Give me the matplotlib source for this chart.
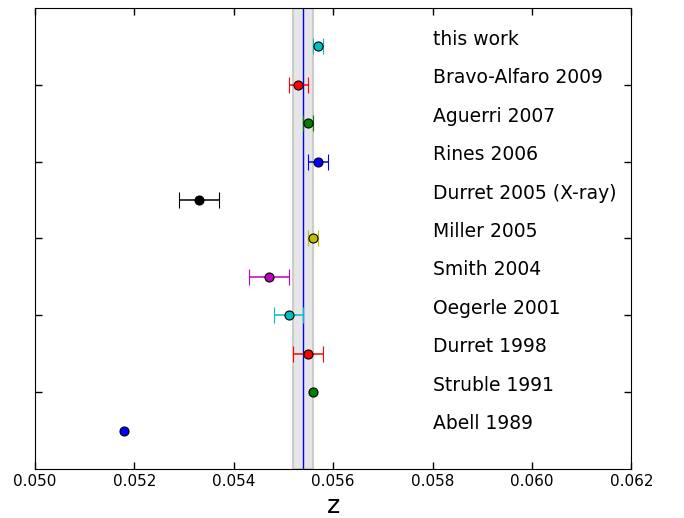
import matplotlib
matplotlib.use("Agg")
import matplotlib.pyplot as plt

labels = ["this work", "Bravo-Alfaro 2009", "Aguerri 2007", "Rines 2006",
          "Durret 2005 (X-ray)", "Miller 2005", "Smith 2004", "Oegerle 2001",
          "Durret 1998", "Struble 1991", "Abell 1989"]
z_values = [0.05570, 0.05530, 0.05550, 0.05570, 0.05330, 0.05560,
            0.05470, 0.05510, 0.05550, 0.05560, 0.05180]
z_errors = [0.00010, 0.00020, 0.00010, 0.00020, 0.00040, 0.00010,
            0.00040, 0.00030, 0.00030, 0.0, 0.0]
colors = ["c", "r", "g", "b", "k", "y", "m", "c", "r", "g", "b"]
band_low, band_high, band_mid = 0.05520, 0.05560, 0.05540
xticks = [0.050, 0.052, 0.054, 0.056, 0.058, 0.060, 0.062]

fig = plt.figure(figsize=(6.84, 5.18), dpi=100)
ax = fig.add_axes([0.0512, 0.0946, 0.8720, 0.8900])

ax.axvspan(band_low, band_high, facecolor="0.9", edgecolor="0.8", lw=1.5, zorder=1)
ax.axvline(band_mid, color="b", lw=1, zorder=2)

n = len(labels)
for i, (lab, z, e, c) in enumerate(zip(labels, z_values, z_errors, colors)):
    y = n - i
    ax.errorbar([z], [y], xerr=[e] if e > 0 else None, fmt="o", color=c, ecolor=c,
                mec="k", mew=0.8, ms=6.5, capsize=5.5, elinewidth=1.1, capthick=1.1,
                zorder=3)
    ax.text(0.0580, y + 0.18, lab, fontsize=13.5, va="center", ha="left")

ax.set_xlim(0.050, 0.062)
ax.set_ylim(0, 12)
ax.set_xticks(xticks)
ax.set_xticklabels(["%.3f" % t for t in xticks], fontsize=11)
ax.set_yticks([2, 4, 6, 8, 10])
ax.set_yticklabels([])
ax.tick_params(direction="in", top=True, right=True, length=5, width=1)
ax.set_xlabel("z", fontsize=18)

fig.savefig("out.png", dpi=100)
